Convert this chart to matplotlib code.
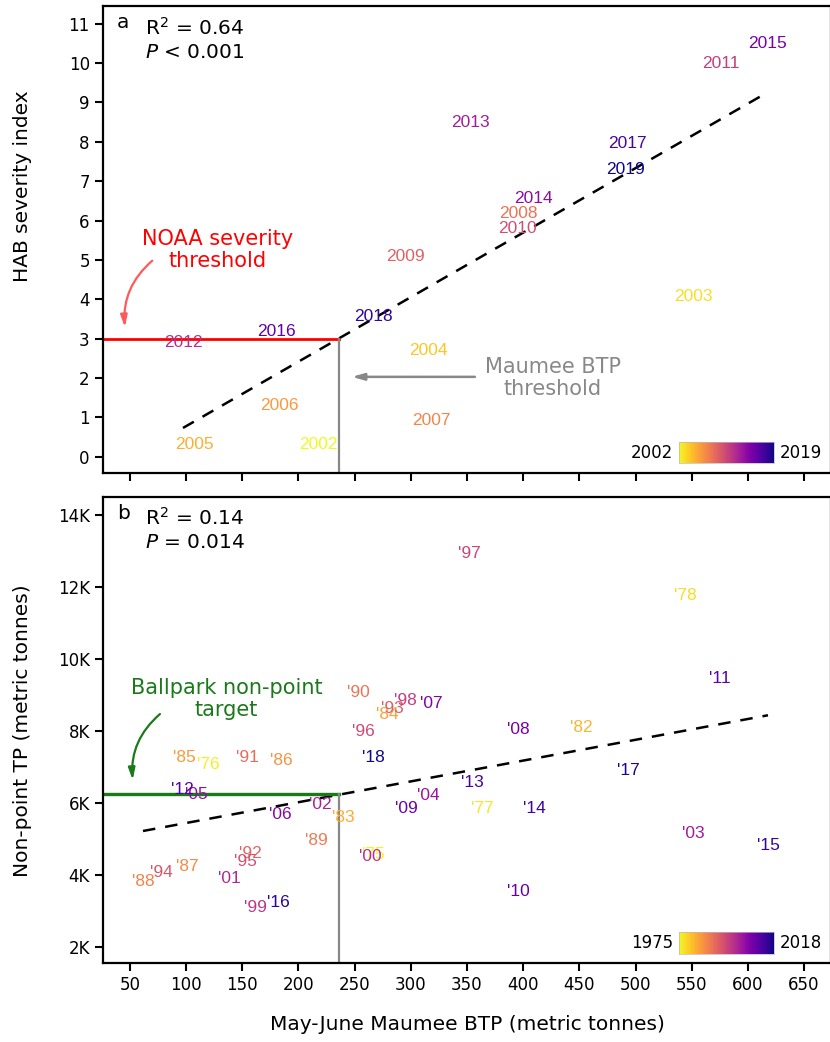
import numpy as np
import matplotlib
matplotlib.use("Agg")
import matplotlib.pyplot as plt
from matplotlib import colors
from matplotlib.ticker import FuncFormatter

# ---------------- data: panel a (HAB severity vs May-June BTP) ----------------
years_a = [2002, 2003, 2004, 2005, 2006, 2007, 2008, 2009, 2010,
           2011, 2012, 2013, 2014, 2015, 2016, 2017, 2018, 2019]
btp_a = [217.3, 551.1, 315.2, 107.0, 182.6, 318.0, 395.4, 294.8, 394.5,
         576.0, 97.2, 353.5, 408.7, 617.9, 180.8, 492.4, 266.3, 491.5]
hab_a = [0.32, 4.08, 2.69, 0.32, 1.29, 0.91, 6.17, 5.08, 5.79,
         9.98, 2.89, 8.48, 6.57, 10.49, 3.19, 7.97, 3.57, 7.29]

# ---------------- data: panel b (non-point TP vs May-June BTP) ----------------
years_b = [1975, 1976, 1977, 1978, 1982, 1983, 1984, 1985, 1986, 1987,
           1988, 1989, 1990, 1991, 1992, 1993, 1994, 1995, 1996, 1997,
           1998, 1999, 2000, 2001, 2002, 2003, 2004, 2005, 2006, 2007,
           2008, 2009, 2010, 2011, 2012, 2013, 2014, 2015, 2016, 2017, 2018]
btp_b = [266.3, 119.4, 363.3, 544.0, 451.4, 239.6, 278.7, 98.1, 184.4, 100.7,
         61.6, 215.6, 252.9, 155.0, 156.8, 283.2, 77.6, 153.2, 257.4, 351.7,
         294.8, 161.3, 263.6, 138.1, 219.1, 551.1, 315.2, 108.7, 183.5, 317.9,
         395.4, 295.7, 395.4, 575.1, 96.3, 354.4, 409.6, 617.9, 181.7, 493.3, 266.3]
tp_b = [4583, 7083, 5861, 11750, 8111, 5611, 8472, 7278, 7194, 4250,
        3833, 4972, 9083, 7278, 4611, 8639, 4083, 4389, 8000, 12917,
        8861, 3111, 4528, 3917, 5972, 5167, 6222, 6250, 5694, 8778,
        8056, 5861, 3556, 9472, 6389, 6583, 5861, 4833, 3250, 6917, 7278]

# thresholds
btp_threshold = 236
noaa_threshold = 3
nonpoint_target = 6240

stats_a = ["R$^2$ = 0.64", "$\\it{P}$ < 0.001"]
stats_b = ["R$^2$ = 0.14", "$\\it{P}$ = 0.014"]

yticks_a = list(range(0, 12))
yticks_b = [2000, 4000, 6000, 8000, 10000, 12000, 14000]
xticks = [50, 100, 150, 200, 250, 300, 350, 400, 450, 500, 550, 600, 650]

# ---------------- figure ----------------
W, H = 830, 1042
fig = plt.figure(figsize=(W / 100, H / 100), dpi=100)
plt.rcParams['font.family'] = ['DejaVu Sans']

def fx(px):
    return px / W

def fy(py):
    return 1 - py / H

left, right = 103, 831
ax_a = fig.add_axes([fx(left), fy(473.3), fx(right) - fx(left), fy(6) - fy(473.3)])
ax_b = fig.add_axes([fx(left), fy(963.3), fx(right) - fx(left), fy(497.3) - fy(963.3)])

cmap = plt.get_cmap('plasma_r')
lab_font = dict(family=['Liberation Sans', 'DejaVu Sans'], fontsize=12.5)

def style_axes(ax):
    for s in ax.spines.values():
        s.set_linewidth(1.6)
    ax.tick_params(direction='out', length=6, width=1.5, labelsize=12)
    ax.set_xticks(xticks)
    ax.set_xlim(26, 674)

# ---------------- panel a ----------------
norm_a = colors.Normalize(min(years_a), max(years_a))
for yr, x, y in zip(years_a, btp_a, hab_a):
    ax_a.text(x, y, str(yr), color=cmap(norm_a(yr)), ha='center', va='center', **lab_font)

xa = np.array(btp_a); ya = np.array(hab_a)
ka, ba = np.polyfit(xa, ya, 1)
xx = np.array([xa.min(), xa.max()])
ax_a.plot(xx, ka * xx + ba, color='black', lw=1.8, ls=(0, (5, 4)))

ax_a.plot([26, btp_threshold], [noaa_threshold, noaa_threshold], color='#ff0000', lw=2)
ax_a.plot([btp_threshold, btp_threshold], [-0.42, noaa_threshold], color='#888888', lw=1.6)

style_axes(ax_a)
ax_a.set_ylim(-0.42, 11.45)
ax_a.set_yticks(yticks_a)
ax_a.tick_params(axis='x', labelbottom=False)
ax_a.set_ylabel('HAB severity index', fontsize=14.5)
ax_a.yaxis.set_label_coords(-0.098, 0.615)

ax_a.text(0.019, 0.964, 'a', transform=ax_a.transAxes, fontsize=14.5, ha='left', va='center')
ax_a.text(0.0577, 0.953, stats_a[0], transform=ax_a.transAxes, fontsize=14.5, ha='left', va='center')
ax_a.text(0.0577, 0.900, stats_a[1], transform=ax_a.transAxes, fontsize=14.5, ha='left', va='center')

ax_a.text(128.3, 5.25, 'NOAA severity\nthreshold', color='#ff0000', fontsize=15,
          ha='center', va='center', linespacing=1.15)
ax_a.annotate('', xy=(45.5, 3.29), xytext=(69.8, 4.98),
              arrowprops=dict(arrowstyle='-|>,head_length=0.7,head_width=0.2',
                              color='#ff5a5a', lw=1.6,
                              connectionstyle='arc3,rad=0.25', shrinkA=0, shrinkB=0))
ax_a.text(426.5, 2.0, 'Maumee BTP\nthreshold', color='#888888', fontsize=15,
          ha='center', va='center', linespacing=1.15)
ax_a.annotate('', xy=(247.6, 2.03), xytext=(357, 2.03),
              arrowprops=dict(arrowstyle='-|>,head_length=0.7,head_width=0.2',
                              color='#888888', lw=1.8, shrinkA=0, shrinkB=0))

# ---------------- panel b ----------------
norm_b = colors.Normalize(min(years_b), max(years_b))
for yr, x, y in zip(years_b, btp_b, tp_b):
    ax_b.text(x, y, "'" + str(yr)[2:], color=cmap(norm_b(yr)), ha='center', va='center', **lab_font)

xb = np.array(btp_b); yb = np.array(tp_b)
kb, bb = np.polyfit(xb, yb, 1)
xx = np.array([xb.min(), xb.max()])
ax_b.plot(xx, kb * xx + bb, color='black', lw=1.8, ls=(0, (5, 4)))

ax_b.plot([26, btp_threshold], [nonpoint_target, nonpoint_target], color='#1a7a1a', lw=2.4)
ax_b.plot([btp_threshold, btp_threshold], [1550, nonpoint_target], color='#888888', lw=1.6)

style_axes(ax_b)
ax_b.set_ylim(1550, 14490)
ax_b.set_yticks(yticks_b)
ax_b.yaxis.set_major_formatter(FuncFormatter(lambda v, p: f"{int(v / 1000)}K"))
ax_b.set_ylabel('Non-point TP (metric tonnes)', fontsize=14.5)
ax_b.yaxis.set_label_coords(-0.098, 0.5)
ax_b.set_xlabel('May-June Maumee BTP (metric tonnes)', fontsize=14.5, labelpad=15)

ax_b.text(0.019, 0.966, 'b', transform=ax_b.transAxes, fontsize=14.5, ha='left', va='center')
ax_b.text(0.0577, 0.956, stats_b[0], transform=ax_b.transAxes, fontsize=14.5, ha='left', va='center')
ax_b.text(0.0577, 0.902, stats_b[1], transform=ax_b.transAxes, fontsize=14.5, ha='left', va='center')

ax_b.text(136, 8889, 'Ballpark non-point\ntarget', color='#1a7a1a', fontsize=15,
          ha='center', va='center', linespacing=1.15)
ax_b.annotate('', xy=(52.4, 6639), xytext=(76.7, 8472),
              arrowprops=dict(arrowstyle='-|>,head_length=0.7,head_width=0.2',
                              color='#1a7a1a', lw=1.6,
                              connectionstyle='arc3,rad=0.25', shrinkA=0, shrinkB=0))

# ---------------- colour bars ----------------
grad = np.linspace(0, 1, 256).reshape(1, -1)
for (py0, py1), yrs in [((442, 463), years_a), ((932, 954), years_b)]:
    cax = fig.add_axes([fx(679), fy(py1), fx(774) - fx(679), fy(py0) - fy(py1)])
    cax.imshow(grad, aspect='auto', cmap=cmap)
    cax.set_xticks([]); cax.set_yticks([])
    for s in cax.spines.values():
        s.set_linewidth(0.5); s.set_color('#bbbbbb')
    fig.text(fx(673), fy((py0 + py1) / 2), str(min(yrs)), ha='right', va='center', fontsize=12)
    fig.text(fx(780), fy((py0 + py1) / 2), str(max(yrs)), ha='left', va='center', fontsize=12)

fig.savefig('out.png', dpi=100)
